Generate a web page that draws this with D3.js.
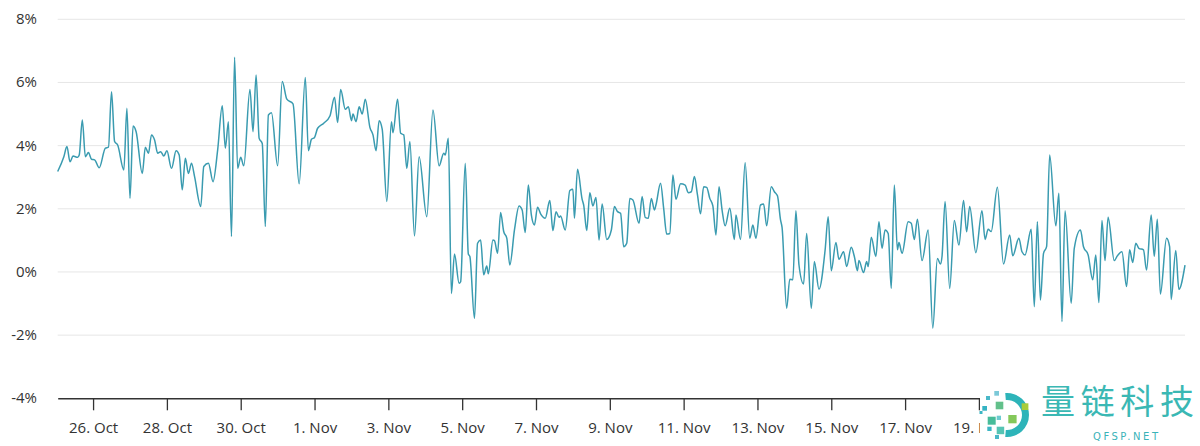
<!DOCTYPE html>
<html>
<head>
<meta charset="utf-8">
<script src="https://cdn.jsdelivr.net/npm/d3@7"></script>
<style>
  html, body { margin: 0; padding: 0; background: #ffffff; }
  svg { display: block; }
</style>
</head>
<body>
<svg id="chart" width="1200" height="446"></svg>
<script>
// ---- data (hours after 25 Oct 00:00 UTC, percentage change) ----
const startDate = "2019-10-25";
const hours = [
  1,5,7,9,11,14,15,17,19,21,23,25,28,32,34,36,38,40,44,46,48,50,52,56,58,60,62,64,66,68,70,72,75,78,80,82,84,86,88,90,94,96,99,102,105,108,110,112,114,116,118,120,122,
  126,128,130,132,134,136,138,140,144,147,150,154,158,162,164,166,168,170,174,178,181,183,185,188,190,192,193,195,197,199,201,204,206,208,210,212,215,218,219,222,224,226,228,230,233,236,241,245,249,252,253,255,
  257,259,262,263,266,268,269,272,274,276,278,280,281,284,285,287,289,291,293,295,298,301,303,305,307,309,311,313,315,318,321,323,325,327,328,331,334,336,337,339,342,343,345,347,349,351,353,355,358,361,363,365,367,369,371,373,375,379,381,
  383,385,387,389,390,393,395,397,399,401,403,406,409,411,413,415,417,419,421,423,425,427,429,431,433,435,438,441,442,445,448,451,453,455,458,460,462,465,467,469,471,472,475,477,479,481,483,486,488,491,493,496,500,502,504,507,509,
  512,514,517,519,521,522,525,527,528,530,533,535,537,539,541,543,545,547,548,550,554,556,558,560,563,567,570,573,575,576,578,581,584,587,590,592,594,598,602,604,606,608,612,
  616,620,622,626,628,630,634,636,638,640,642,644,646,650,652,654,656,660,662,666,668,671,674,676,678,680,682,684,688,690,693,696,698,700,702,704,707,709,712,714,716,718,722,724,725,728,730,734
];
const changePct = [
  3.18,3.65,3.97,3.49,3.67,3.63,3.70,4.81,3.65,3.78,3.57,3.55,3.30,3.92,3.95,5.71,4.13,4.02,3.23,5.18,2.33,4.62,4.44,3.12,3.95,3.76,4.34,4.18,3.76,3.81,3.67,3.84,3.28,3.84,3.70,2.60,3.60,3.12,3.44,3.02,2.07,3.34,3.44,2.86,3.86,5.26,3.92,4.76,1.12,6.80,3.28,3.63,3.36,
  5.78,4.44,6.24,4.23,4.07,1.44,4.97,5.04,3.36,6.03,5.47,5.32,2.79,6.16,3.84,4.20,4.26,4.55,4.71,4.94,5.53,4.73,5.78,5.15,5.23,4.79,5.00,4.76,5.23,5.00,5.47,4.58,4.34,3.84,4.79,4.52,2.23,4.76,4.41,5.47,4.39,4.34,3.28,4.13,1.14,3.65,1.75,5.13,3.36,3.76,3.70,4.23,
  -0.68,0.57,-0.36,-0.31,3.44,0.57,0.49,-1.47,0.91,1.01,-0.09,0.19,-0.06,1.01,0.99,0.59,1.88,1.28,1.07,0.22,1.33,2.09,1.96,1.25,2.75,1.80,1.49,2.05,1.84,1.70,2.26,1.31,1.91,1.73,1.77,1.33,2.58,2.62,1.70,3.25,2.30,2.12,1.31,2.51,2.09,2.36,1.01,2.15,1.03,1.33,2.07,1.91,1.86,0.80,0.91,2.33,2.28,1.54,2.39,
  1.73,1.70,2.33,1.96,2.12,2.81,2.02,1.20,1.22,3.07,2.30,2.79,2.75,2.51,2.54,3.02,2.44,1.84,2.70,2.68,2.33,2.09,1.17,2.70,1.96,1.46,2.02,1.03,1.80,1.03,3.46,1.07,1.49,1.07,2.12,2.15,1.46,2.70,2.54,2.41,1.65,1.41,-1.15,-0.23,-0.25,1.94,0.22,-0.38,1.22,-1.15,0.33,-0.55,0.70,1.75,0.04,0.93,0.40,
  0.64,0.17,0.78,0.49,0.04,0.36,-0.02,0.33,0.17,1.10,0.49,1.59,0.75,1.33,1.22,-0.52,2.75,0.70,0.93,0.59,1.59,1.54,1.03,1.67,0.36,1.33,-1.78,0.43,0.25,0.49,2.23,-0.52,1.63,0.85,2.26,1.27,2.07,0.61,1.94,1.03,1.35,1.28,2.68,
  0.25,1.17,0.51,1.07,0.64,0.54,1.35,-1.10,1.59,-0.89,0.59,0.80,3.70,1.46,2.49,-1.57,1.94,-0.99,0.75,1.33,0.80,0.54,-0.25,0.54,-0.97,1.63,0.36,1.73,0.36,0.51,0.64,-0.46,0.70,0.30,0.91,0.75,0.70,0.06,1.80,0.49,1.67,-0.70,1.07,0.80,-0.87,0.68,-0.55,0.22
];
const tickDates = ["2019-10-26","2019-10-28","2019-10-30","2019-11-01","2019-11-03","2019-11-05","2019-11-07","2019-11-09","2019-11-11","2019-11-13","2019-11-15","2019-11-17","2019-11-19"];
const yTicks = [-4, -2, 0, 2, 4, 6, 8];
const watermarkTitle = "量链科技";
const watermarkSub = "QFSP.NET";

// ---- layout ----
const W = 1200, H = 446;
const margin = { left: 57.7, right: 15, top: 19.3, bottom: 47.7 };
const svg = d3.select("#chart");
const parse = d3.utcParse("%Y-%m-%d");
const t0 = parse(startDate).getTime();
const data = hours.map((h, i) => ({ date: new Date(t0 + h * 3600e3), value: changePct[i] }));

const x = d3.scaleUtc()
  .domain(d3.extent(data, d => d.date))
  .range([margin.left, W - margin.right]);
const y = d3.scaleLinear()
  .domain([-4, 8])
  .range([H - margin.bottom, margin.top]);

const font = "'Open Sans', 'DejaVu Sans', sans-serif";

// gridlines
svg.append("g")
  .selectAll("line")
  .data(yTicks.filter(v => v !== -4))
  .join("line")
  .attr("x1", margin.left).attr("x2", W - margin.right)
  .attr("y1", d => y(d)).attr("y2", d => y(d))
  .attr("stroke", "#e6e6e6").attr("stroke-width", 1);

// y labels
svg.append("g")
  .selectAll("text")
  .data(yTicks)
  .join("text")
  .attr("x", 37).attr("y", d => y(d) + 5)
  .attr("text-anchor", "end")
  .attr("font-family", font).attr("font-size", 15).attr("fill", "#333")
  .text(d => d + "%");

// x axis
const xAxis = d3.axisBottom(x)
  .tickValues(tickDates.map(parse))
  .tickFormat(d3.utcFormat("%-d. %b"))
  .tickSize(12)
  .tickPadding(12)
  .tickSizeOuter(0);
const gx = svg.append("g")
  .attr("transform", `translate(0,${y(-4)})`)
  .call(xAxis);
gx.select(".domain").attr("stroke", "#333").attr("stroke-width", 1.5);
gx.selectAll(".tick line").attr("stroke", "#333").attr("stroke-width", 1.3);
gx.selectAll(".tick text")
  .attr("font-family", font).attr("font-size", 15).attr("fill", "#333");

// line
const line = d3.line()
  .x(d => x(d.date))
  .y(d => y(d.value))
  .curve(d3.curveMonotoneX);
svg.append("path")
  .datum(data)
  .attr("d", line)
  .attr("fill", "none")
  .attr("stroke", "#3a9bb0")
  .attr("stroke-width", 1.5)
  .attr("stroke-linejoin", "round");

// watermark
const wm = svg.append("g");
wm.append("rect").attr("x", 980).attr("y", 381).attr("width", 220).attr("height", 65).attr("fill", "#fff");
const arc = d3.arc().innerRadius(15).outerRadius(22).startAngle(-0.08).endAngle(Math.PI + 0.08);
wm.append("path").attr("d", arc()).attr("transform", "translate(1007,415)").attr("fill", "#2db4b9");
const squares = [
  [994.3, 391, 4.7, "#7cc9d8"], [986, 396, 4, "#4ab8c8"], [995.7, 401.7, 7.6, "#62c08a"],
  [1021.7, 403.3, 6.7, "#a8cc3a"], [982.3, 406, 4.7, "#35b3c3"], [996.7, 415.7, 4.3, "#6ccbd0"],
  [987.7, 416.7, 8, "#48bc9a"], [1008.3, 415, 8.3, "#84c85a"], [987.3, 426.7, 4.3, "#3cb6c4"],
  [996.7, 426.7, 7.5, "#56c4b4"], [979.5, 411, 3, "#3cb6c4"], [995, 435, 4, "#4ab8c8"]
];
wm.selectAll("rect.sq").data(squares).join("rect").attr("class", "sq")
  .attr("x", d => d[0]).attr("y", d => d[1]).attr("width", d => d[2]).attr("height", d => d[2])
  .attr("fill", d => d[3]);
wm.append("text").attr("x", 1041).attr("y", 414)
  .attr("font-family", "'Noto Sans CJK SC', sans-serif").attr("font-size", 34)
  .attr("textLength", 153).attr("lengthAdjust", "spacing")
  .attr("fill", "#3ab8b4").text(watermarkTitle);
wm.append("text").attr("x", 1093).attr("y", 440)
  .attr("font-family", "'DejaVu Sans', sans-serif").attr("font-size", 10)
  .attr("textLength", 65).attr("lengthAdjust", "spacing")
  .attr("fill", "#3ab3b8").text(watermarkSub);
</script>
</body>
</html>
